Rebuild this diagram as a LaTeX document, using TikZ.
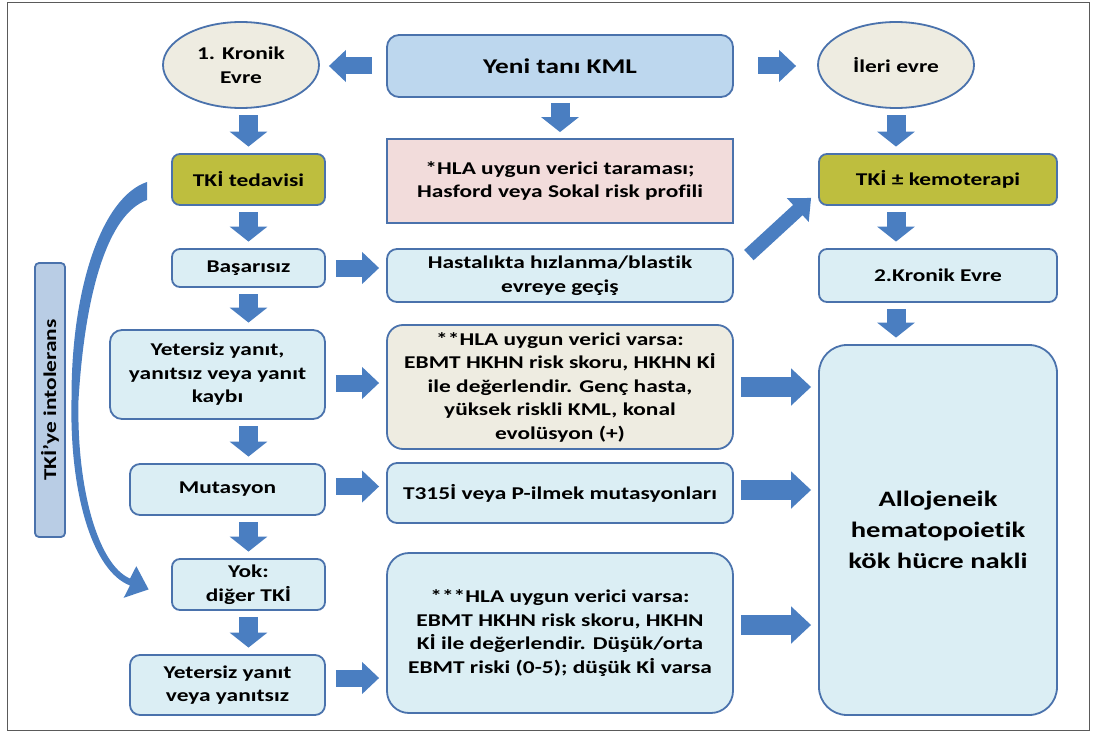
\documentclass[tikz,border=0pt]{standalone}
\usepackage{fontspec}
\setmainfont{Carlito}[FakeStretch=1.3, Ligatures=NoCommon]
\usetikzlibrary{arrows.meta,calc,shapes.geometric}

\definecolor{boxblue}{RGB}{74,114,172}
\definecolor{arrowblue}{RGB}{74,126,193}
\definecolor{lightblue}{RGB}{219,238,244}
\definecolor{cream}{RGB}{238,236,225}
\definecolor{pinkfill}{RGB}{242,220,219}
\definecolor{olivefill}{RGB}{190,190,62}
\definecolor{headblue}{RGB}{189,215,238}
\definecolor{sideblue}{RGB}{185,205,229}
\definecolor{framegray}{RGB}{90,90,90}

\tikzset{
    flowbox/.style={draw=boxblue, line width=1.8pt, rounded corners=8pt, align=center,
        font=\fontsize{18pt}{23.5pt}\selectfont\bfseries, inner sep=2pt},
    stage/.style={ellipse, draw=boxblue, line width=1.8pt, fill=cream, align=center,
        minimum width=156pt, minimum height=86pt, inner sep=0pt,
        font=\fontsize{18pt}{24pt}\selectfont\bfseries},
    downarr/.style={-{Triangle[length=15pt,width=37pt]}, line width=19pt, draw=arrowblue,
        shorten <=6.5pt, shorten >=6.5pt},
    sidearr/.style={-{Triangle[length=17pt,width=31pt]}, line width=17pt, draw=arrowblue},
    bigarr/.style={-{Triangle[length=20pt,width=36pt]}, line width=20pt, draw=arrowblue,
        shorten <=7pt, shorten >=7pt},
}

\begin{document}
\begin{tikzpicture}[x=1pt,y=-1pt]

    \useasboundingbox (0,0) rectangle (1093,733);

    % Frame
    \draw[framegray, line width=1pt] (7,3) rectangle (1089,730);

    %% Top row
    \node[flowbox, fill=headblue, rounded corners=12pt, minimum width=346pt, minimum height=62pt,
        font=\fontsize{21pt}{25pt}\selectfont\bfseries] (yeni) at (560,66) {Yeni tanı KML};
    \node[stage] (kron1) at (241,65) {1. Kronik\\Evre};
    \node[stage] (ileri) at (896,65) {İleri evre};

    %% Left column
    \node[flowbox, fill=olivefill, minimum width=153pt, minimum height=51pt] (tki) at (248.5,179.5) {TKİ tedavisi};
    \node[flowbox, fill=lightblue, minimum width=153pt, minimum height=38pt] (basar) at (248.5,268) {Başarısız};
    \node[flowbox, fill=lightblue, rounded corners=12pt, minimum width=215pt, minimum height=89pt] (yeters1) at (217.5,374.5)
        {Yetersiz yanıt,\\yanıtsız veya yanıt\\kaybı};
    \node[flowbox, fill=lightblue, rounded corners=10pt, minimum width=195pt, minimum height=51pt] (mutas) at (227.5,489.5) {Mutasyon};
    \node[flowbox, fill=lightblue, minimum width=153pt, minimum height=51pt] (yok) at (248.5,584.5) {Yok:\\diğer TKİ};
    \node[flowbox, fill=lightblue, rounded corners=10pt, minimum width=195pt, minimum height=60pt] (yeters2) at (227.5,685)
        {Yetersiz yanıt\\veya yanıtsız};

    % Side label
    \node[flowbox, fill=sideblue, rotate=90, rounded corners=4pt, inner sep=0pt,
        minimum width=274pt, minimum height=30pt] (intol) at (50,400) {TKİ’ye intolerans};

    %% Middle column
    \node[flowbox, fill=pinkfill, sharp corners, minimum width=346pt, minimum height=84pt] (hla1) at (560,181)
        {*HLA uygun verici taraması;\\Hasford veya Sokal risk profili};
    \node[flowbox, fill=lightblue, rounded corners=10pt, minimum width=346pt, minimum height=53pt] (hasta) at (560,275.5)
        {Hastalıkta hızlanma/blastik\\evreye geçiş};
    \node[flowbox, fill=cream, rounded corners=16pt, minimum width=346pt, minimum height=124pt] (hla2) at (560,387)
        {**HLA uygun verici varsa:\\EBMT HKHN risk skoru, HKHN Kİ\\ile değerlendir. Genç hasta,\\yüksek riskli KML, konal\\evolüsyon (+)};
    \node[flowbox, fill=lightblue, rounded corners=10pt, minimum width=346pt, minimum height=60pt] (t315) at (560,493)
        {T315İ veya P-ilmek mutasyonları};
    \node[flowbox, fill=lightblue, rounded corners=22pt, minimum width=346pt, minimum height=160pt] (hla3) at (560,633)
        {***HLA uygun verici varsa:\\EBMT HKHN risk skoru, HKHN\\Kİ ile değerlendir. Düşük/orta\\EBMT riski (0-5); düşük Kİ varsa};

    %% Right column
    \node[flowbox, fill=olivefill, minimum width=238pt, minimum height=51pt] (tkikemo) at (938,179.5) {TKİ ± kemoterapi};
    \node[flowbox, fill=lightblue, minimum width=238pt, minimum height=53pt] (kron2) at (938,275.5) {2.Kronik Evre};
    \node[flowbox, fill=lightblue, rounded corners=28pt, minimum width=238pt, minimum height=370pt,
        font=\fontsize{22pt}{31pt}\selectfont\bfseries] (allo) at (938,530)
        {Allojeneik\\hematopoietik\\kök hücre nakli};

    % Arrows from the diagnosis
    \draw[sidearr, shorten <=14pt, shorten >=9pt] (yeni.west) -- (yeni.west -| kron1.east);
    \draw[sidearr, shorten <=24pt, shorten >=21pt] (yeni.east) -- (yeni.east -| ileri.west);
    \draw[downarr, shorten <=5pt, shorten >=6pt] (yeni.south) -- (hla1.north);

    % Left column arrows
    \draw[downarr] (kron1.south -| tki.south) -- (tki.north);
    \draw[downarr] (tki.south) -- (basar.north);
    \draw[downarr] (basar.south) -- (basar.south |- yeters1.north);
    \draw[downarr] (basar.south |- yeters1.south) -- (basar.south |- mutas.north);
    \draw[downarr] (basar.south |- mutas.south) -- (yok.north);
    \draw[downarr] (yok.south) -- (yok.south |- yeters2.north);

    % Arrows to the middle column
    \draw[sidearr, shorten <=10pt, shorten >=7pt] (basar.east) -- (basar.east -| hasta.west);
    \draw[sidearr, shorten <=10pt, shorten >=7pt] (yeters1.east |- hla2.west) ++(0,-4) -- (hla2.west |- 0,383);
    \draw[sidearr, shorten <=10pt, shorten >=7pt] (mutas.east) ++(0,-3) -- (t315.west |- 0,486.5);
    \draw[sidearr, shorten <=10pt, shorten >=7pt] (yeters2.east) ++(0,-7) -- (hla3.west |- 0,678);

    % Right column arrows
    \draw[downarr] (ileri.south) -- (ileri.south |- tkikemo.north);
    \draw[downarr] (ileri.south |- tkikemo.south) -- (ileri.south |- kron2.north);
    \draw[downarr] (ileri.south |- kron2.south) -- (ileri.south |- allo.north);
    \draw[-{Triangle[length=18pt,width=31pt]}, line width=14pt, draw=arrowblue]
        ($(hasta.north east)+(15,7)$) -- ($(tkikemo.south west)+(-7,-8)$);

    % Arrows to the transplant box
    \draw[bigarr] (hla2.east) -- (hla2.east -| allo.west);
    \draw[bigarr] (t315.east) ++(0,-3) -- (allo.west |- 0,490);
    \draw[bigarr] (hla3.east) ++(0,-8) -- (allo.west |- 0,625);

    % Intolerance arrow from tki to yok
    \fill[arrowblue] (147,182) .. controls (102,197) and (71,288) .. (71.5,400)
        .. controls (69.5,492) and (92,571) .. (130,585.5)
        -- (123.7,597.8) -- (148.6,589.4) -- (136.3,566.2) -- (130,578.5)
        .. controls (98,565) and (76.5,488) .. (78.5,400)
        .. controls (85,292) and (108,214) .. (147,200) -- cycle;

\end{tikzpicture}
\end{document}
